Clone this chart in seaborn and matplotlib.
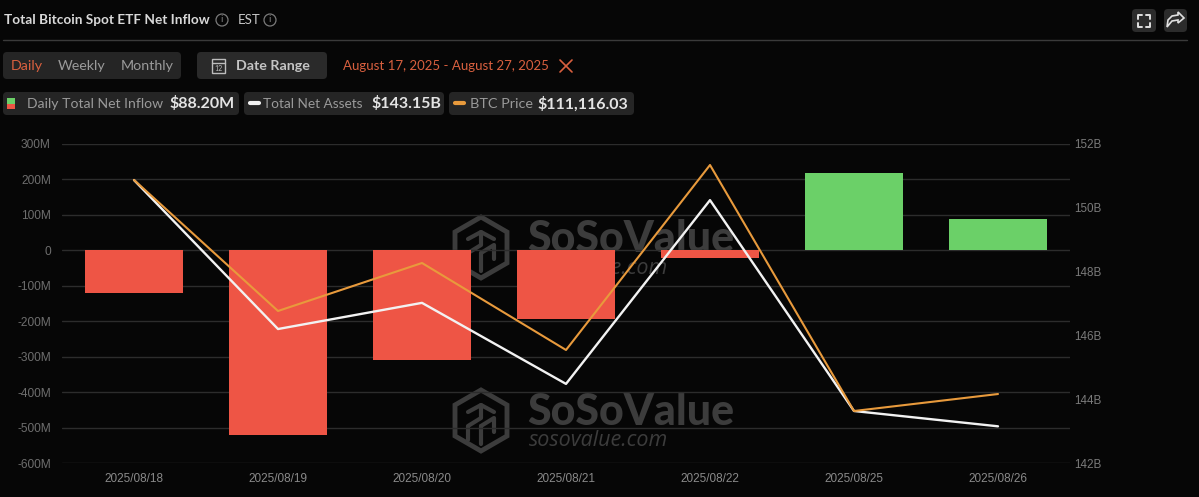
import pandas as pd
import seaborn as sns
import matplotlib.pyplot as plt
from matplotlib.patches import FancyBboxPatch, Circle, Polygon, Rectangle

dates = ['2025/08/18', '2025/08/19', '2025/08/20', '2025/08/21', '2025/08/22', '2025/08/25', '2025/08/26']
net_inflow = [-120, -522, -310, -194, -22, 219, 88.2]
net_assets = [150.87, 146.2, 147.02, 144.48, 150.24, 143.63, 143.15]
btc_price = [117061, 113422, 114755, 112339, 117477, 110644, 111116]
left_ticks = [300, 200, 100, 0, -100, -200, -300, -400, -500, -600]
right_ticks = [152, 150, 148, 146, 144, 142]

BG = '#060606'
RED = '#EE5545'
GREEN = '#6BD068'
ORANGE = '#E89A3C'
WHITE = '#F2F2F2'
PILL = '#252525'
ACCENT = '#D9603F'
MARK = '#3C3C3C'

df = pd.DataFrame({'date': dates, 'inflow': net_inflow, 'assets': net_assets, 'btc': btc_price})
df['side'] = ['up' if v > 0 else 'down' for v in net_inflow]

sns.set_style('dark')
plt.rcParams['font.family'] = ['Lato', 'DejaVu Sans']
W, H = 1199, 497
fig = plt.figure(figsize=(W / 100, H / 100), dpi=100, facecolor=BG)

# page furniture, in pixel coordinates
bg = fig.add_axes([0, 0, 1, 1], zorder=0)
bg.set_xlim(0, W)
bg.set_ylim(H, 0)
bg.axis('off')


def pill(x0, y0, x1, y1, color=PILL):
    bg.add_patch(FancyBboxPatch((x0 + 3, y0 + 3), x1 - x0 - 6, y1 - y0 - 6,
                                boxstyle='round,pad=3,rounding_size=4', fc=color, ec='none'))


def label(x, y, s, color='#9A9A9A', size=10.5, **kw):
    bg.text(x, y, s, color=color, fontsize=size, va='center', **kw)


def info(x, y):
    bg.add_patch(Circle((x, y), 6, fc='none', ec='#7A7A7A', lw=0.9))
    bg.text(x, y, 'i', color='#7A7A7A', fontsize=7.5, ha='center', va='center')


def watermark(y):
    hexa = [(481, y), (507, y + 15), (507, y + 46), (481, y + 61), (455, y + 46), (455, y + 15)]
    bg.add_patch(Polygon(hexa, closed=True, fc='none', ec=MARK, lw=3.5, joinstyle='miter'))
    bg.plot([468, 481, 494], [y + 22, y + 15, y + 22], color=MARK, lw=3)
    bg.plot([481, 481, 468, 468], [y + 15, y + 28, y + 36, y + 50], color=MARK, lw=3)
    bg.plot([481, 494, 494], [y + 36, y + 28, y + 42], color=MARK, lw=3)
    bg.plot([481, 481], [y + 36, y + 54], color=MARK, lw=3)
    bg.text(527, y + 22, 'SoSoValue', color=MARK, fontsize=31, fontweight='black',
            family='Lato', va='center')
    bg.text(529, y + 51, 'sosovalue.com', color=MARK, fontsize=15.5, style='italic',
            family='Open Sans', va='center')


bg.text(4, 20, 'Total Bitcoin Spot ETF Net Inflow', color='#D8D8D8', fontsize=9.8,
        fontweight='bold', va='center')
info(222, 20)
label(238, 20, 'EST', color='#C8C8C8', size=9.5)
info(270, 20)
bg.plot([3, 1187], [39.5, 39.5], color='#3A3A3A', lw=1)

pill(1132, 9, 1156, 32, '#2C2C2C')
pill(1164, 9, 1187, 32, '#2C2C2C')
for cx, cy, sx, sy in [(1138, 15, 1, 1), (1150, 15, -1, 1), (1138, 27, 1, -1), (1150, 27, -1, -1)]:
    bg.plot([cx + 4 * sx, cx, cx], [cy, cy, cy + 4 * sy], color='#E0E0E0', lw=1.4)
bg.add_patch(Polygon([(1178, 12), (1184, 18), (1178, 23), (1178, 20), (1172, 21), (1167, 27),
                      (1168, 20), (1172, 16), (1178, 15)], closed=True, fc='none', ec='#E0E0E0', lw=1.2))

pill(3, 52, 181, 79)
label(11, 66, 'Daily', color=ACCENT, size=10.3)
label(58, 66, 'Weekly', size=10.3)
label(121, 66, 'Monthly', size=10.3)
pill(197, 52, 327, 79, '#2A2A2A')
bg.add_patch(Rectangle((212, 59), 13, 14, fc='none', ec='#BDBDBD', lw=1))
bg.plot([212, 225], [63, 63], color='#BDBDBD', lw=1)
bg.text(218.5, 68.5, '12', color='#BDBDBD', fontsize=5, ha='center', va='center')
label(236, 66, 'Date Range', color='#C4C4C4', size=10.3, fontweight='bold')
label(343, 66, 'August 17, 2025 - August 27, 2025', color=ACCENT, size=9.5)
bg.plot([560, 572], [60, 72], color=ACCENT, lw=1.2)
bg.plot([560, 572], [72, 60], color=ACCENT, lw=1.2)

pill(3, 92, 239, 115)
bg.add_patch(Rectangle((7, 98), 8, 5.5, fc=GREEN, ec='none'))
bg.add_patch(Rectangle((7, 103.5), 8, 5.5, fc=RED, ec='none'))
label(27, 104, 'Daily Total Net Inflow', size=10.1)
label(169, 104, '$88.20M', color='#E4E4E4', size=11.5, fontweight='bold')
pill(244, 92, 444, 115)
bg.plot([250, 259], [103, 103], color=WHITE, lw=3, solid_capstyle='round')
label(263, 104, 'Total Net Assets', size=9.8)
label(371, 104, '$143.15B', color='#E4E4E4', size=11.5, fontweight='bold')
pill(449, 92, 634, 115)
bg.plot([455, 464], [103, 103], color=ORANGE, lw=3, solid_capstyle='round')
label(470, 104, 'BTC Price', size=10.4)
label(537, 104, '$111,116.03', color='#E4E4E4', size=11.5, fontweight='bold')

watermark(217)
watermark(390)

# chart axes, positioned to the plot area
x0, x1, y0, y1 = 62, 1070, 144, 463
ax = fig.add_axes([x0 / W, 1 - y1 / H, (x1 - x0) / W, (y1 - y0) / H], zorder=1)
ax.patch.set_alpha(0)
ax.set_axisbelow(True)
ax.grid(axis='y', color='#2C2C2C', lw=1)

sns.barplot(data=df, x='date', y='inflow', hue='side', palette={'up': GREEN, 'down': RED},
            dodge=False, width=0.685, legend=False, saturation=1, linewidth=0, ax=ax)
ax.set_ylim(-600, 300)
ax.set_xlim(-0.5, 6.5)
ax.set_yticks(left_ticks)
ax.set_yticklabels([('0' if v == 0 else f'{v}M') for v in left_ticks], color='#6E6E6E', fontsize=8.6,
                   family='Liberation Sans')
ax.set_xticks(range(len(dates)))
ax.set_xticklabels(dates, color='#8A8A8A', fontsize=8.5, family='Liberation Sans')
ax.tick_params(axis='both', length=0, pad=8)
ax.tick_params(axis='x', pad=7)
ax.set_xlabel('')
ax.set_ylabel('')
for s in ax.spines.values():
    s.set_visible(False)

ax_assets = ax.twinx()
sns.lineplot(data=df, x='date', y='assets', color=WHITE, lw=1.7, sort=False, ax=ax_assets)
ax_assets.set_ylim(142, 152)
ax_assets.set_yticks(right_ticks)
ax_assets.set_yticklabels([f'{v}B' for v in right_ticks], color='#7A7A7A', fontsize=8.4,
                          family='Liberation Sans')
ax_assets.tick_params(axis='y', length=0, pad=3)
ax_assets.grid(False)
ax_assets.set_ylabel('')
ax_assets.patch.set_alpha(0)

ax_btc = ax.twinx()
sns.lineplot(data=df, x='date', y='btc', color=ORANGE, lw=1.5, sort=False, ax=ax_btc)
ax_btc.set_ylim(109200, 118060)
ax_btc.set_yticks([])
ax_btc.grid(False)
ax_btc.set_ylabel('')
ax_btc.patch.set_alpha(0)
for a in (ax_assets, ax_btc):
    a.set_xlim(-0.5, 6.5)
    for s in a.spines.values():
        s.set_visible(False)

plt.savefig('out.png', dpi=100, facecolor=BG)
